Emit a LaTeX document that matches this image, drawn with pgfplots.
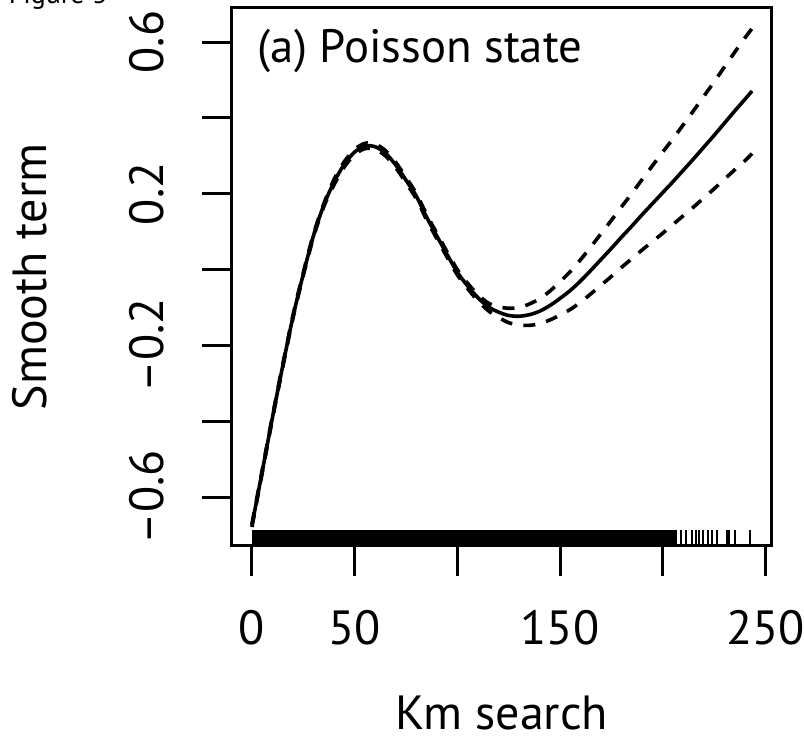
\documentclass[border=0pt]{standalone}
\usepackage{pgfplots}
\pgfplotsset{compat=1.18}
\usepackage{pgfplotstable}
\usepackage{fontspec}
\setmainfont{PT Sans}

\pgfplotstableread{
x fit up lo
0 -0.675 -0.671 -0.679
5 -0.533 -0.529 -0.537
10 -0.390 -0.386 -0.394
15 -0.254 -0.250 -0.258
20 -0.124 -0.120 -0.128
25 -0.012 -0.008 -0.016
30 0.090 0.094 0.086
35 0.170 0.174 0.166
40 0.231 0.238 0.224
45 0.278 0.285 0.271
50 0.310 0.317 0.303
55 0.326 0.333 0.319
60 0.324 0.331 0.317
65 0.307 0.314 0.300
70 0.276 0.283 0.269
75 0.236 0.243 0.229
80 0.194 0.201 0.187
85 0.139 0.146 0.132
90 0.089 0.096 0.082
95 0.040 0.047 0.033
100 -0.007 0.000 -0.014
105 -0.043 -0.036 -0.050
110 -0.074 -0.066 -0.082
115 -0.098 -0.088 -0.108
120 -0.112 -0.098 -0.126
125 -0.121 -0.102 -0.140
130 -0.123 -0.100 -0.146
135 -0.119 -0.091 -0.147
140 -0.110 -0.077 -0.143
145 -0.095 -0.057 -0.133
150 -0.076 -0.032 -0.120
155 -0.055 -0.005 -0.105
160 -0.030 0.026 -0.086
165 -0.002 0.060 -0.064
170 0.027 0.095 -0.041
175 0.056 0.130 -0.018
180 0.086 0.166 0.006
185 0.115 0.201 0.029
190 0.145 0.238 0.052
195 0.174 0.274 0.074
200 0.203 0.310 0.096
205 0.232 0.345 0.119
210 0.262 0.382 0.142
215 0.292 0.419 0.165
220 0.323 0.457 0.189
225 0.354 0.495 0.213
230 0.386 0.534 0.238
235 0.418 0.573 0.263
240 0.449 0.611 0.287
243.5 0.471 0.636 0.306
}\curve

\pgfplotstableread{
x y
208.7 -0.708
211.2 -0.708
214.4 -0.708
216.0 -0.708
217.6 -0.708
219.7 -0.708
222.0 -0.708
224.1 -0.708
226.5 -0.708
231.1 -0.708
232.2 -0.708
235.4 -0.708
242.4 -0.708
}\rug

\begin{document}
\begin{tikzpicture}
\begin{axis}[
  name=ax,
  scale only axis, width=135pt, height=134.5pt,
  xmin=-9.7, xmax=253.2, ymin=-0.729, ymax=0.69,
  axis line style={line width=0.75pt},
  xtick={0,50,100,150,200,250},
  xticklabels={0,50,,150,,250},
  ytick={-0.6,-0.4,-0.2,0,0.2,0.4,0.6},
  yticklabels={--0.6,,--0.2,,0.2,,0.6},
  xtick pos=bottom, ytick pos=left,
  tick align=outside, major tick length=7.5pt,
  tick style={line width=0.75pt, black},
  /pgf/number format/assume math mode=true,
  ticklabel style={font=\fontsize{12}{14}\selectfont},
  xticklabel style={anchor=north},
  xticklabel shift={5pt},
  yticklabel style={rotate=90, anchor=south},
  yticklabel shift={6pt},
  xlabel={Km search},
  ylabel={Smooth term},
  label style={font=\fontsize{12}{14}\selectfont},
  xlabel style={at={([yshift=-46pt]axis description cs:0.5,0)}, anchor=base},
  ylabel style={at={([xshift=-46.25pt]axis description cs:0,0.5)}, anchor=base},
]
\addplot[black, line width=0.9pt, smooth] table[x=x, y=fit] {\curve};
\addplot[black, line width=0.9pt, smooth, dash pattern=on 3pt off 2.8pt] table[x=x, y=up] {\curve};
\addplot[black, line width=0.9pt, smooth, dash pattern=on 3pt off 2.8pt] table[x=x, y=lo] {\curve};
\addplot[fill=black, draw=none] coordinates {(0,-0.729) (207,-0.729) (207,-0.687) (0,-0.687)} --cycle;
\addplot[only marks, mark=|, mark size=2pt, mark options={line width=0.5pt, black}] table[x=x, y=y] {\rug};
\end{axis}
\node[anchor=base west, font=\fontsize{11.7}{14}\selectfont, inner sep=0pt] at ([xshift=6.25pt, yshift=120.75pt]ax.south west) {(a) Poisson state};
\node[anchor=base west, font=\fontsize{7}{8}\selectfont, inner sep=0pt] at ([xshift=-56pt, yshift=135.7pt]ax.south west) {Figure 3};
\pgfresetboundingbox
\path[use as bounding box] ([shift={(-58pt,-48pt)}]ax.south west) rectangle ([shift={(143pt,136.5pt)}]ax.south west);
\end{tikzpicture}
\end{document}
